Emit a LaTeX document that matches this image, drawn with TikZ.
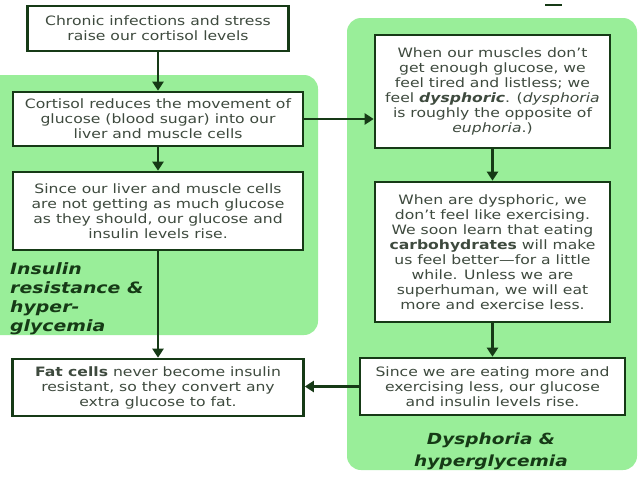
\documentclass[tikz,border=0pt]{standalone}
\usepackage{fontspec}
\setmainfont[FakeStretch=1.21]{DejaVu Sans}
\usetikzlibrary{arrows.meta}
\definecolor{panelgreen}{RGB}{153,238,153}
\definecolor{edgegreen}{RGB}{22,58,22}
\definecolor{txtgray}{RGB}{62,74,62}
\tikzset{
  box/.style={draw=edgegreen, line width=2.6pt, fill=white, align=center, text=txtgray,
    font=\fontsize{12.9}{15}\selectfont, inner sep=0pt},
  panel/.style={fill=panelgreen, rounded corners=14pt, draw=none},
  flow/.style={draw=edgegreen, line width=2.6pt, -{Triangle[length=9pt,width=11pt]}},
  lbl/.style={text=edgegreen, font=\fontsize{15.6}{19.2}\selectfont\bfseries\itshape, inner sep=0pt},
  lblbig/.style={text=edgegreen, font=\fontsize{15.3}{22}\selectfont\bfseries\itshape, inner sep=0pt}
}
\begin{document}
\begin{tikzpicture}[x=1pt,y=-1pt]
\useasboundingbox (0,0) rectangle (638,479);
\fill[white] (0,0) rectangle (638,479);
% panels
\fill[panel] (-20,75) rectangle (318,335);
\fill[panel] (347,18) rectangle (637,470);
% stray mark
\draw[edgegreen, line width=1.2pt] (545,5) -- (562,5);
% boxes
\node[box, minimum width=261pt, minimum height=45pt] (b1) at (158,28.5)
  {Chronic infections and stress\\raise our cortisol levels};
\node[box, minimum width=290pt, minimum height=54pt] (b2) at (158,119)
  {Cortisol reduces the movement of\\glucose (blood sugar) into our\\liver and muscle cells};
\node[box, minimum width=290pt, minimum height=78pt] (b3) at (158,211)
  {Since our liver and muscle cells\\are not getting as much glucose\\as they should, our glucose and\\insulin levels rise.};
\node[box, minimum width=291pt, minimum height=57pt] (fat) at (158,387.5)
  {\textbf{Fat cells} never become insulin\\resistant, so they convert any\\extra glucose to fat.};
\node[box, minimum width=235pt, minimum height=113pt] (b4) at (492.5,91.5)
  {When our muscles don’t\\get enough glucose, we\\feel tired and listless; we\\feel \textbf{\textit{dysphoric}}. (\textit{dysphoria}\\is roughly the opposite of\\\textit{euphoria}.)};
\node[box, minimum width=235pt, minimum height=140pt] (b5) at (492.5,252)
  {When are dysphoric, we\\don’t feel like exercising.\\We soon learn that eating\\\textbf{carbohydrates} will make\\us feel better—for a little\\while. Unless we are\\superhuman, we will eat\\more and exercise less.};
\node[box, minimum width=265pt, minimum height=57pt] (b6) at (492.5,386.5)
  {Since we are eating more and\\exercising less, our glucose\\and insulin levels rise.};
% labels
\node[lbl, anchor=north west, align=left] (l1) at (10,262)
  {Insulin\\resistance \&\\hyper-\\glycemia};
\node[lblbig, align=center] (l2) at (491,451)
  {Dysphoria \&\\hyperglycemia};
% connectors
\draw[flow] (b1) -- (b2);
\draw[flow] (b2) -- (b3);
\draw[flow] (b3) -- (fat);
\draw[flow] (b2.east) -- (b4.west |- b2.east);
\draw[flow] (b4) -- (b5);
\draw[flow] (b5) -- (b6);
\draw[flow] (b6.west) -- (fat.east |- b6.west);
\end{tikzpicture}
\end{document}
